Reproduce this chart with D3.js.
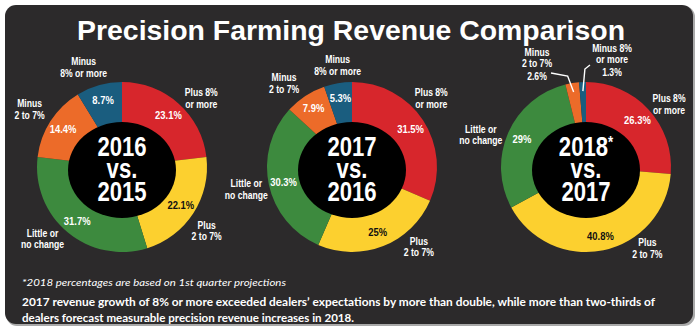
<!DOCTYPE html>
<html>
<head>
<meta charset="utf-8">
<script src="https://cdn.jsdelivr.net/npm/d3@7"></script>
<style>
  body { margin: 0; background: #fff; }
  .narrow { font-family: 'Liberation Sans', Arial, sans-serif; font-weight: bold; }
  .geo { font-family: 'Lato', 'Open Sans', sans-serif; }
</style>
</head>
<body>
<div id="chart"></div>
<script>
// data
const categories = ['Plus 8% or more', 'Plus 2 to 7%', 'Little or no change', 'Minus 2 to 7%', 'Minus 8% or more']
const colors = ['#d7262c', '#fcd02f', '#3d8a3e', '#ec6b29', '#1a5d7f']
const years = ['2016', '2017', '2018']
const baseYears = ['2015', '2016', '2017']
const values2016 = [23.1, 22.1, 31.7, 14.4, 8.7]
const values2017 = [31.5, 25, 30.3, 7.9, 5.3]
const values2018 = [26.3, 40.8, 29, 2.6, 1.3]
const projected = [false, false, true]

const title = 'Precision Farming Revenue Comparison'
const footnote = '*2018 percentages are based on 1st quarter projections'
const summary = [
  "2017 revenue growth of 8% or more exceeded dealers’ expectations by more than double, while more than two-thirds of",
  'dealers forecast measurable precision revenue increases in 2018.'
]

let width = 700
let height = 332
let squeeze = 0.82 // no narrow face installed, so condense by hand

let svg = d3
  .select('#chart')
  .append('svg')
  .attr('width', width)
  .attr('height', height)

// panel + faint shadow edge
svg.append('rect')
  .attr('x', 6).attr('y', 6).attr('width', 689).attr('height', 320)
  .attr('rx', 11).attr('fill', '#a9a9a9')
svg.append('rect')
  .attr('x', 5).attr('y', 5).attr('width', 688).attr('height', 319)
  .attr('rx', 11).attr('fill', '#2c2a2b')

svg.append('text')
  .attr('class', 'narrow')
  .attr('x', 351).attr('y', 40)
  .attr('text-anchor', 'middle')
  .attr('font-size', 28)
  .attr('fill', '#fff')
  .attr('textLength', 548)
  .attr('lengthAdjust', 'spacingAndGlyphs')
  .text(title)

// condensed multi-line text centred on (x, y)
function narrowText(parent, x, y, lines, size, gaps) {
  let t = parent.append('text')
    .attr('class', 'narrow')
    .attr('transform', 'translate(' + x + ',' + y + ') scale(' + squeeze + ',1)')
    .attr('text-anchor', 'middle')
    .attr('font-size', size)
    .attr('fill', '#fff')
  lines.forEach((s, k) => {
    t.append('tspan').attr('x', 0).attr('y', gaps[k]).text(s)
  })
  return t
}

let outerR = 85
let cy = 167
let centers = [122, 352, 586]

let pie = d3.pie().sort(null).value(d => d)
let arc = d3.arc().innerRadius(40).outerRadius(outerR)
let labelArc = d3.arc().innerRadius(70).outerRadius(70)

// where each category name sits: [angle in degrees, radius]
let namePos = [
  [[49, 105], [127, 106], [228, 107], [302, 109], [339, 107]],
  [[49, 105], [140, 104], [258, 108], [321, 108], [352, 103]],
  [[53, 104], [143, 102], [287, 110], null, null]
]
let nameLines = [
  [['Plus 8%', 'or more'], ['Plus', '2 to 7%'], ['Little or', 'no change'], ['Minus', '2 to 7%'], ['Minus', '8% or more']],
  [['Plus 8%', 'or more'], ['Plus', '2 to 7%'], ['Little or', 'no change'], ['Minus', '2 to 7%'], ['Minus', '8% or more']],
  [['Plus 8%', 'or more'], ['Plus', '2 to 7%'], ['Little or', 'no change'], ['Minus', '2 to 7%'], ['Minus 8%', 'or more']]
]
// small slices of the last ring get callouts instead
let callouts = [null, null, null, { dx: -49, dy: -111 }, { dx: 26, dy: -115 }]

let fmt = v => v + '%'
let polar = (deg, r) => {
  let a = deg * Math.PI / 180
  return [Math.sin(a) * r, -Math.cos(a) * r]
}

;[values2016, values2017, values2018].forEach((values, i) => {
  let g = svg.append('g')
    .attr('transform', 'translate(' + centers[i] + ',' + cy + ')')

  let arcs = pie(values)

  g.selectAll('path')
    .data(arcs)
    .enter()
    .append('path')
    .attr('d', arc)
    .attr('fill', (d, j) => colors[j])

  g.append('ellipse')
    .attr('cx', 0).attr('cy', 3)
    .attr('rx', 54).attr('ry', 48)
    .attr('fill', '#000')

  // year text in the middle
  let yt = narrowText(g, 0, 0, [years[i], 'vs.', baseYears[i]], 27, [-11, 11, 34])
  if (projected[i]) {
    yt.select('tspan').append('tspan').attr('font-size', 16).attr('dy', -8).text('*')
  }

  arcs.forEach((d, j) => {
    let call = i === 2 ? callouts[j] : null
    if (call) {
      let mid = (d.startAngle + d.endAngle) / 2
      let end = [Math.sin(mid) * 76, -Math.cos(mid) * 76]
      let lines = nameLines[i][j].concat([fmt(d.value)])
      narrowText(g, call.dx, call.dy, lines, 10.5, [0, 11, 24.5])
      let pts = j === 3
        ? [[call.dx + 14, -94], [end[0] - 6, -91], end]
        : [[call.dx - 22, -102], [end[0] + 2, -98], end]
      g.append('path')
        .attr('d', d3.line()(pts))
        .attr('fill', 'none')
        .attr('stroke', '#fff')
        .attr('stroke-width', 1.4)
      return
    }

    let c = labelArc.centroid(d)
    narrowText(g, c[0], c[1] + 4, [fmt(d.value)], 11.5, [0])
      .attr('fill', j === 1 ? '#111' : '#fff')

    let p = polar(namePos[i][j][0], namePos[i][j][1])
    narrowText(g, p[0], p[1] - 2, nameLines[i][j], 10.5, [0, 11.5])
  })
})

svg.append('text')
  .attr('class', 'geo')
  .attr('x', 22).attr('y', 286)
  .attr('font-size', 9.5)
  .attr('font-style', 'italic')
  .attr('fill', '#fff')
  .attr('textLength', 264)
  .attr('lengthAdjust', 'spacingAndGlyphs')
  .text(footnote)

svg.selectAll('.summary')
  .data(summary)
  .enter()
  .append('text')
  .attr('class', 'summary geo')
  .attr('x', 22)
  .attr('y', (d, i) => 306 + i * 16)
  .attr('font-size', 12)
  .attr('font-weight', 'bold')
  .attr('fill', '#fff')
  .attr('textLength', (d, i) => i === 0 ? 633 : 332)
  .attr('lengthAdjust', 'spacingAndGlyphs')
  .text(d => d)
</script>
</body>
</html>
